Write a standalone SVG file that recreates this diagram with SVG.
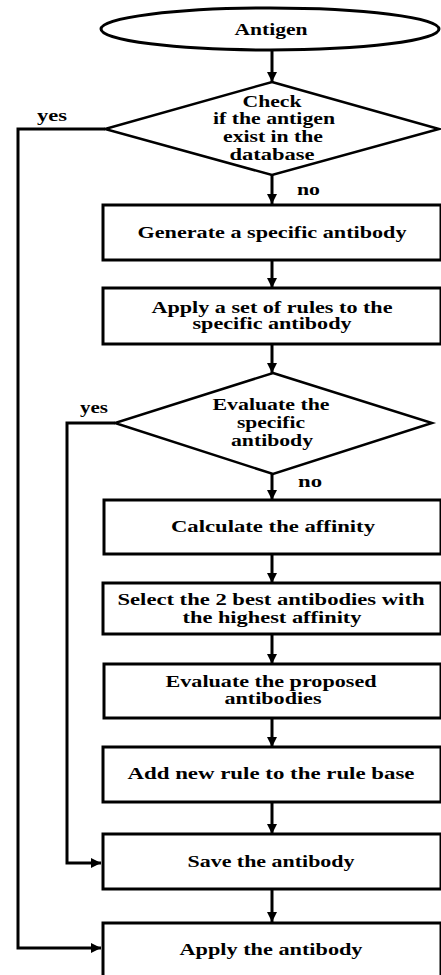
<svg xmlns="http://www.w3.org/2000/svg" width="441" height="975" viewBox="0 0 441 975">
<defs>
<style>
.shape{fill:#fff;stroke:#000;stroke-width:3}
.dia{fill:#fff;stroke:#000;stroke-width:2.5}
.conn{fill:none;stroke:#000;stroke-width:3}
text{font-weight:bold;font-size:16px;fill:#000;text-anchor:middle}
.lbl{text-anchor:start}
</style>
<marker id="ah" markerWidth="10" markerHeight="10" refX="10" refY="5" orient="auto" markerUnits="userSpaceOnUse">
<path d="M0,0 L10,5 L0,10 Z" fill="#000"/>
</marker>
</defs>
<rect width="441" height="975" fill="#fff"/>
<g font-family="'Liberation Serif', 'Times New Roman', 'DejaVu Serif', serif">
<g id="connectors">
<line class="conn" x1="272" y1="50" x2="272" y2="82" marker-end="url(#ah)"/>
<line class="conn" x1="272" y1="175" x2="272" y2="204" marker-end="url(#ah)"/>
<line class="conn" x1="272" y1="260" x2="272" y2="288" marker-end="url(#ah)"/>
<line class="conn" x1="272" y1="344" x2="272" y2="373" marker-end="url(#ah)"/>
<line class="conn" x1="272" y1="474" x2="272" y2="500" marker-end="url(#ah)"/>
<line class="conn" x1="272" y1="554" x2="272" y2="583" marker-end="url(#ah)"/>
<line class="conn" x1="272" y1="634" x2="272" y2="664" marker-end="url(#ah)"/>
<line class="conn" x1="272" y1="718" x2="272" y2="747" marker-end="url(#ah)"/>
<line class="conn" x1="272" y1="802" x2="272" y2="834" marker-end="url(#ah)"/>
<line class="conn" x1="272" y1="889" x2="272" y2="922" marker-end="url(#ah)"/>
<polyline class="conn" points="105,129 18,129 18,948 101,948" marker-end="url(#ah)"/>
<polyline class="conn" points="115,423 67,423 67,863 101,863" marker-end="url(#ah)"/>
<text class="lbl" x="37" y="121" textLength="30" lengthAdjust="spacingAndGlyphs">yes</text>
<text class="lbl" x="297" y="195" textLength="23" lengthAdjust="spacingAndGlyphs">no</text>
<text class="lbl" x="80" y="413" textLength="28" lengthAdjust="spacingAndGlyphs">yes</text>
<text class="lbl" x="298" y="487" textLength="24" lengthAdjust="spacingAndGlyphs">no</text>
</g>
<g id="antigen">
<ellipse class="shape" cx="270" cy="29" rx="169" ry="21"/>
<text x="271" y="35" textLength="73" lengthAdjust="spacingAndGlyphs">Antigen</text>
</g>
<g id="check">
<polygon class="dia" points="272,82 439,129 272,175 105,129"/>
<text x="272" y="107" textLength="59" lengthAdjust="spacingAndGlyphs">Check</text>
<text x="274" y="124" textLength="122" lengthAdjust="spacingAndGlyphs">if the antigen</text>
<text x="273" y="142" textLength="100" lengthAdjust="spacingAndGlyphs">exist in the</text>
<text x="272" y="160" textLength="85" lengthAdjust="spacingAndGlyphs">database</text>
</g>
<g id="generate">
<rect class="shape" x="103" y="205" width="338" height="55"/>
<text x="272" y="238" textLength="269" lengthAdjust="spacingAndGlyphs">Generate a specific antibody</text>
</g>
<g id="apply-rules">
<rect class="shape" x="103" y="288" width="338" height="56"/>
<text x="272" y="313" textLength="241" lengthAdjust="spacingAndGlyphs">Apply a set of rules to the</text>
<text x="272" y="329" textLength="159" lengthAdjust="spacingAndGlyphs">specific antibody</text>
</g>
<g id="evaluate-specific">
<polygon class="dia" points="273,373 432,423 273,474 115,423"/>
<text x="271" y="410" textLength="117" lengthAdjust="spacingAndGlyphs">Evaluate the</text>
<text x="271" y="428" textLength="68" lengthAdjust="spacingAndGlyphs">specific</text>
<text x="272" y="446" textLength="82" lengthAdjust="spacingAndGlyphs">antibody</text>
</g>
<g id="calculate">
<rect class="shape" x="104" y="500" width="337" height="54"/>
<text x="273" y="532" textLength="204" lengthAdjust="spacingAndGlyphs">Calculate the affinity</text>
</g>
<g id="select">
<rect class="shape" x="103" y="583" width="338" height="51"/>
<text x="271" y="605" textLength="307" lengthAdjust="spacingAndGlyphs">Select the 2 best antibodies with</text>
<text x="272" y="623" textLength="179" lengthAdjust="spacingAndGlyphs">the highest affinity</text>
</g>
<g id="evaluate-proposed">
<rect class="shape" x="104" y="664" width="337" height="54"/>
<text x="271" y="687" textLength="211" lengthAdjust="spacingAndGlyphs">Evaluate the proposed</text>
<text x="273" y="704" textLength="97" lengthAdjust="spacingAndGlyphs">antibodies</text>
</g>
<g id="add-rule">
<rect class="shape" x="103" y="747" width="338" height="55"/>
<text x="271" y="779" textLength="287" lengthAdjust="spacingAndGlyphs">Add new rule to the rule base</text>
</g>
<g id="save">
<rect class="shape" x="103" y="834" width="338" height="55"/>
<text x="271" y="867" textLength="167" lengthAdjust="spacingAndGlyphs">Save the antibody</text>
</g>
<g id="apply-antibody">
<rect class="shape" x="103" y="923" width="338" height="60"/>
<text x="271" y="955" textLength="183" lengthAdjust="spacingAndGlyphs">Apply the antibody</text>
</g>
</g>
</svg>
